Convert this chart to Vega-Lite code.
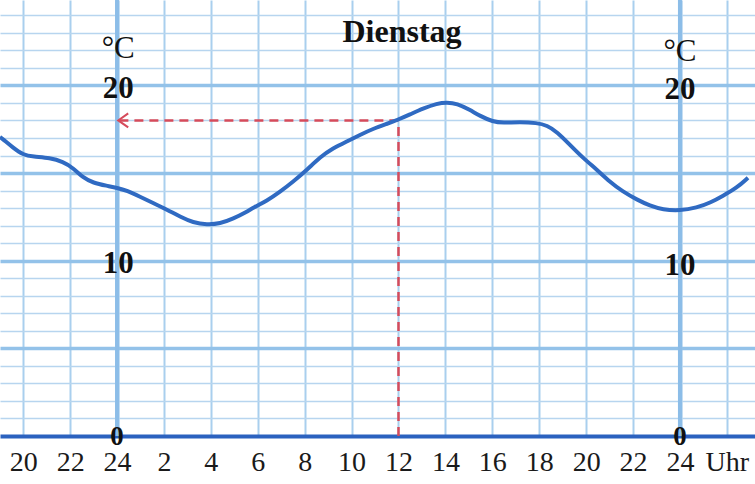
{
  "$schema": "https://vega.github.io/schema/vega-lite/v6.json",
  "width": 755,
  "height": 436,
  "autosize": {"type": "none"},
  "padding": {"left": 0, "top": 0, "right": 0, "bottom": 48},
  "background": "white",
  "config": {"view": {"stroke": null}},
  "datasets": {
    "curve": [
      {"t": -0.99, "v": 17.05},
      {"t": -0.915, "v": 16.99},
      {"t": -0.43, "v": 16.44},
      {"t": -0.007, "v": 16.04},
      {"t": 0.42, "v": 15.93},
      {"t": 1.14, "v": 15.87},
      {"t": 1.70, "v": 15.64},
      {"t": 2.12, "v": 15.30},
      {"t": 2.55, "v": 14.73},
      {"t": 2.98, "v": 14.44},
      {"t": 3.57, "v": 14.27},
      {"t": 4.0, "v": 14.16},
      {"t": 4.43, "v": 13.99},
      {"t": 4.98, "v": 13.65},
      {"t": 5.53, "v": 13.30},
      {"t": 6.13, "v": 12.91},
      {"t": 6.69, "v": 12.51},
      {"t": 7.24, "v": 12.17},
      {"t": 7.84, "v": 12.05},
      {"t": 8.39, "v": 12.11},
      {"t": 8.95, "v": 12.39},
      {"t": 9.54, "v": 12.79},
      {"t": 9.80, "v": 13.02},
      {"t": 10.39, "v": 13.42},
      {"t": 10.95, "v": 13.93},
      {"t": 11.50, "v": 14.50},
      {"t": 12.10, "v": 15.18},
      {"t": 12.65, "v": 15.90},
      {"t": 13.21, "v": 16.42},
      {"t": 13.80, "v": 16.80},
      {"t": 14.36, "v": 17.18},
      {"t": 14.91, "v": 17.52},
      {"t": 15.51, "v": 17.81},
      {"t": 15.94, "v": 18.02},
      {"t": 16.49, "v": 18.34},
      {"t": 17.04, "v": 18.68},
      {"t": 17.64, "v": 18.97},
      {"t": 18.07, "v": 19.03},
      {"t": 18.49, "v": 18.97},
      {"t": 19.05, "v": 18.60},
      {"t": 19.47, "v": 18.26},
      {"t": 20.03, "v": 17.92},
      {"t": 20.45, "v": 17.86},
      {"t": 21.18, "v": 17.92},
      {"t": 21.90, "v": 17.86},
      {"t": 22.33, "v": 17.72},
      {"t": 22.76, "v": 17.35},
      {"t": 23.31, "v": 16.61},
      {"t": 23.86, "v": 15.87},
      {"t": 24.46, "v": 15.19},
      {"t": 25.01, "v": 14.50},
      {"t": 25.57, "v": 13.93},
      {"t": 26.17, "v": 13.48},
      {"t": 26.72, "v": 13.13},
      {"t": 27.27, "v": 12.91},
      {"t": 28.0, "v": 12.85},
      {"t": 28.72, "v": 13.02},
      {"t": 29.28, "v": 13.30},
      {"t": 29.83, "v": 13.70},
      {"t": 30.43, "v": 14.16},
      {"t": 30.90, "v": 14.73}
    ],
    "numbers": [
      {"t": 4.05, "v": 19.3, "label": "20"},
      {"t": 4.05, "v": 9.3, "label": "10"},
      {"t": 28.0, "v": 19.2, "label": "20"},
      {"t": 28.0, "v": 9.2, "label": "10"}
    ],
    "zeros": [
      {"t": 4.0, "v": -0.5, "label": "0"},
      {"t": 28.0, "v": -0.5, "label": "0"}
    ],
    "units": [
      {"t": 4.05, "v": 21.55, "label": "°C"},
      {"t": 28.0, "v": 21.4, "label": "°C"}
    ],
    "title": [{"t": 16.15, "v": 22.5, "label": "Dienstag"}],
    "midnight": [{"t": 4}, {"t": 28}],
    "readH": [{"t1": 4.1, "t2": 16, "v": 18}],
    "readV": [{"t": 16, "v1": 0, "v2": 18}],
    "arrow": [{"t": 4.05, "v": 18}]
  },
  "layer": [
    {
      "data": {"name": "curve"},
      "mark": {"type": "line", "opacity": 0},
      "encoding": {
        "x": {
          "field": "t", "type": "quantitative",
          "scale": {"domain": [-0.99, 31.2], "nice": false, "zero": false},
          "axis": {
            "values": [0, 2, 4, 6, 8, 10, 12, 14, 16, 18, 20, 22, 24, 26, 28, 30],
            "tickCount": 40,
            "title": null,
            "grid": true,
            "gridColor": {"condition": {"test": "datum.value === 4 || datum.value === 28", "value": "#8cbde8"}, "value": "#a9cfee"},
            "gridWidth": {"condition": {"test": "datum.value === 4 || datum.value === 28", "value": 4}, "value": 2},
            "ticks": false,
            "tickSize": 0,
            "domainColor": "#2b62bf",
            "domainWidth": 4,
            "labelFont": "Liberation Serif",
            "labelFontSize": 28,
            "labelColor": "#1a1a1a",
            "labelPadding": 12,
            "labelOverlap": false,
            "labelFlush": false,
            "labelExpr": "datum.value === 30 ? 'Uhr' : ((datum.value + 20) % 24 === 0 ? '24' : '' + ((datum.value + 20) % 24))"
          }
        },
        "y": {
          "field": "v", "type": "quantitative",
          "scale": {"domain": [0, 24.87], "nice": false, "zero": false},
          "axis": {
            "values": [1, 2, 3, 4, 5, 6, 7, 8, 9, 10, 11, 12, 13, 14, 15, 16, 17, 18, 19, 20, 21, 22, 23, 24],
            "tickCount": 40,
            "title": null,
            "grid": true,
            "gridColor": {"condition": {"test": "datum.value % 5 === 0", "value": "#93c2e9"}, "value": "#b7d5ef"},
            "gridWidth": {"condition": {"test": "datum.value % 5 === 0", "value": 3.5}, "value": 1.5},
            "labels": false,
            "ticks": false,
            "domain": false
          }
        }
      }
    },
    {
      "data": {"name": "midnight"},
      "mark": {"type": "rule", "color": "#8cbde8", "strokeWidth": 4},
      "encoding": {"x": {"field": "t", "type": "quantitative"}}
    },
    {
      "data": {"name": "readH"},
      "mark": {"type": "rule", "color": "#d64b5b", "strokeWidth": 2.5, "strokeDash": [9, 6]},
      "encoding": {
        "x": {"field": "t1", "type": "quantitative"},
        "x2": {"field": "t2"},
        "y": {"field": "v", "type": "quantitative"}
      }
    },
    {
      "data": {"name": "readV"},
      "mark": {"type": "rule", "color": "#d64b5b", "strokeWidth": 2.5, "strokeDash": [9, 6]},
      "encoding": {
        "x": {"field": "t", "type": "quantitative"},
        "y": {"field": "v1", "type": "quantitative"},
        "y2": {"field": "v2"}
      }
    },
    {
      "data": {"name": "arrow"},
      "mark": {"type": "point", "shape": "M1,-0.7L0,0L1,0.7", "filled": false, "size": 400, "stroke": "#d64b5b", "strokeWidth": 2, "opacity": 1},
      "encoding": {
        "x": {"field": "t", "type": "quantitative"},
        "y": {"field": "v", "type": "quantitative"}
      }
    },
    {
      "data": {"name": "curve"},
      "mark": {"type": "line", "color": "#2f6ac2", "strokeWidth": 4, "interpolate": "basis"},
      "encoding": {
        "x": {"field": "t", "type": "quantitative"},
        "y": {"field": "v", "type": "quantitative"}
      }
    },
    {
      "data": {"name": "numbers"},
      "mark": {"type": "text", "font": "Liberation Serif", "fontWeight": "bold", "fontSize": 31, "color": "#111", "align": "center", "baseline": "alphabetic"},
      "encoding": {
        "x": {"field": "t", "type": "quantitative"},
        "y": {"field": "v", "type": "quantitative"},
        "text": {"field": "label"}
      }
    },
    {
      "data": {"name": "zeros"},
      "mark": {"type": "text", "font": "Liberation Serif", "fontWeight": "bold", "fontSize": 27, "color": "#111", "align": "center", "baseline": "alphabetic"},
      "encoding": {
        "x": {"field": "t", "type": "quantitative"},
        "y": {"field": "v", "type": "quantitative"},
        "text": {"field": "label"}
      }
    },
    {
      "data": {"name": "units"},
      "mark": {"type": "text", "font": "Liberation Serif", "fontSize": 31, "color": "#111", "align": "center", "baseline": "alphabetic"},
      "encoding": {
        "x": {"field": "t", "type": "quantitative"},
        "y": {"field": "v", "type": "quantitative"},
        "text": {"field": "label"}
      }
    },
    {
      "data": {"name": "title"},
      "mark": {"type": "text", "font": "Liberation Serif", "fontWeight": "bold", "fontSize": 32, "color": "#111", "align": "center", "baseline": "alphabetic"},
      "encoding": {
        "x": {"field": "t", "type": "quantitative"},
        "y": {"field": "v", "type": "quantitative"},
        "text": {"field": "label"}
      }
    }
  ]
}
